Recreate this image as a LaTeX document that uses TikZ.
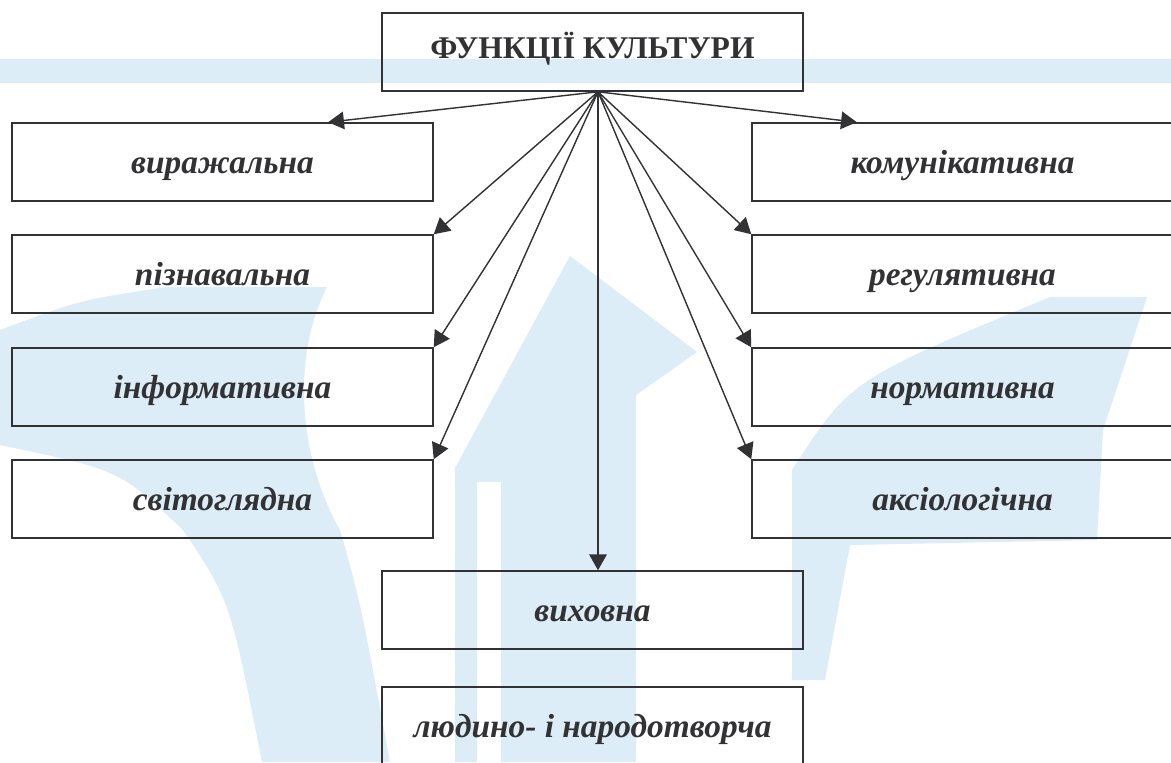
\documentclass[tikz,border=0pt]{standalone}
\usepackage{fontspec}
\setmainfont{Liberation Serif}
\usetikzlibrary{calc,arrows.meta}
\definecolor{lini}{RGB}{50,50,52}
\definecolor{fon}{RGB}{221,237,247}
\tikzset{
  funk/.style={draw=lini, line width=0.9pt, minimum width=8.42cm, minimum height=1.56cm,
    text=lini, text height=13pt, text depth=0pt, font=\fontsize{19}{22}\selectfont\bfseries\itshape},
  strilka/.style={draw=lini, line width=0.8pt, -{Triangle[length=9pt,width=10pt]}}
}

\begin{document}
\begin{tikzpicture}[x=0.02cm,y=-0.02cm]
\useasboundingbox (0,0) rectangle (1171,762);
% Фон і водяний знак
\fill[white] (0,0) rectangle (1171,762);
\fill[fon] (0,59) rectangle (1171,83);
\fill[fon] (570,256) -- (697,352) -- (636,395) -- (636,762) -- (455,762) -- (455,468) -- cycle;
\fill[white] (477,482) rectangle (501,762);
\fill[fon] (167,287) -- (327,287) .. controls (290,360) and (300,460) .. (340,530)
  .. controls (360,600) .. (390,762) -- (262,762) .. controls (230,600) .. (183,530)
  .. controls (120,470) .. (0,445) -- (0,330) .. controls (80,300) .. cycle;
\fill[fon] (1050,297) -- (1147,297) -- (1103,430) -- (1097,540) -- (850,545)
  -- (825,680) -- (792,680) -- (792,470) .. controls (850,380) .. cycle;
% Заголовок
\node[funk, text height=7pt, font=\fontsize{18}{21}\selectfont\bfseries] (title) at (592.5,52) {ФУНКЦІЇ КУЛЬТУРИ};
% Ліва колонка
\node[funk] (vyr) at (222.5,162) {виражальна};
\node[funk] (pizn) at (222.5,274) {пізнавальна};
\node[funk] (inf) at (222.5,387) {інформативна};
\node[funk] (svit) at (222.5,499) {світоглядна};
% Права колонка
\node[funk] (kom) at (962.5,162) {комунікативна};
\node[funk] (reg) at (962.5,274) {регулятивна};
\node[funk] (norm) at (962.5,387) {нормативна};
\node[funk] (aks) at (962.5,499) {аксіологічна};
% Низ
\node[funk] (vykh) at (592.5,610) {виховна};
\node[funk] (lud) at (592.5,726) {людино- і народотворча};
% Стрілки
\coordinate (hub) at ($(title.south)+(5.5,0)$);
\draw[strilka] (hub) -- ($(vyr.north)!0.5!(vyr.north east)$);
\draw[strilka] (hub) -- (pizn.north east);
\draw[strilka] (hub) -- (inf.north east);
\draw[strilka] (hub) -- (svit.north east);
\draw[strilka] (hub) -- ($(kom.north)!0.5!(kom.north west)$);
\draw[strilka] (hub) -- (reg.north west);
\draw[strilka] (hub) -- (norm.north west);
\draw[strilka] (hub) -- (aks.north west);
\draw[strilka] (hub) -- (hub |- vykh.north);
\end{tikzpicture}
\end{document}
